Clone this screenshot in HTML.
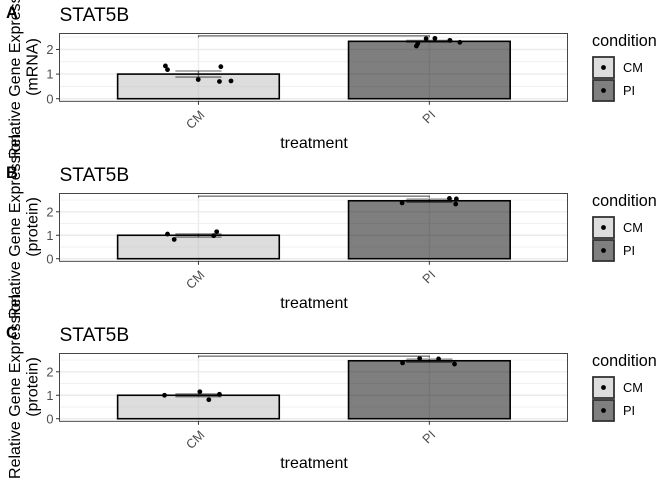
<!DOCTYPE html>
<html>
<head>
<meta charset="utf-8">
<style>
html,body{margin:0;padding:0;background:#fff;width:672px;height:480px;overflow:hidden}
svg{display:block;font-family:"Liberation Sans",sans-serif}
</style>
</head>
<body>
<svg id="chart" width="672" height="480" viewBox="0 0 672 480" xmlns="http://www.w3.org/2000/svg"></svg>
<script>
const categories = ['CM', 'PI'];
const yTickValues = [0, 1, 2];
const yMinorValues = [0.5, 1.5, 2.5];
const barFills = ['#bbbbbb', '#000000'];

const tagLabels = ['A', 'B', 'C'];
const yLines = ['(mRNA)', '(protein)', '(protein)'];
const yDomains = [[-0.105, 2.648], [-0.11, 2.78], [-0.11, 2.78]];
const barMeans = [[1, 2.33], [1, 2.47], [1, 2.47]];
const errLow = [[0.88, 2.30], [0.92, 2.41], [0.94, 2.41]];
const errHigh = [[1.126, 2.37], [1.06, 2.54], [1.06, 2.54]];
const bracketValues = [2.55, 2.67, 2.67];

const pointCatA = [0, 0, 0, 0, 0, 0, 1, 1, 1, 1, 1, 1];
const pointJitterA = [-0.143, -0.134, 0.097, -0.001, 0.091, 0.141, -0.056, -0.05, -0.014, 0.024, 0.089, 0.132];
const pointValueA = [1.33, 1.18, 1.30, 0.78, 0.70, 0.72, 2.14, 2.24, 2.44, 2.45, 2.37, 2.29];

const pointCatB = [0, 0, 0, 0, 1, 1, 1, 1];
const pointJitterB = [-0.134, -0.105, 0.066, 0.079, -0.118, 0.087, 0.117, 0.114];
const pointValueB = [1.05, 0.82, 0.98, 1.15, 2.38, 2.57, 2.55, 2.33];

const pointCatC = [0, 0, 0, 0, 1, 1, 1, 1];
const pointJitterC = [-0.147, 0.006, 0.045, 0.091, -0.116, -0.042, 0.04, 0.109];
const pointValueC = [1.0, 1.15, 0.81, 1.04, 2.38, 2.57, 2.55, 2.33];

const pointCats = [pointCatA, pointCatB, pointCatC];
const pointJitters = [pointJitterA, pointJitterB, pointJitterC];
const pointValues = [pointValueA, pointValueB, pointValueC];

const NS = 'http://www.w3.org/2000/svg';
const svg = document.getElementById('chart');
const panelLeft = 59.5, panelRight = 567.5, panelTopBase = 33.5, panelHeight = 67.8, rowStep = 160;
const barWidth = 0.7, capWidth = 0.2;

function xScale(v) {
  const lo = 0.4, hi = 2.6;
  return 0.4 + panelLeft + (v - lo) / (hi - lo) * (panelRight - panelLeft);
}
function yScaleFor(row) {
  const top = panelTopBase + row * rowStep;
  const d = yDomains[row];
  return function (v) {
    return top + panelHeight - (v - d[0]) / (d[1] - d[0]) * panelHeight;
  };
}
function add(parent, tag, attrs, text) {
  const el = document.createElementNS(NS, tag);
  for (const k in attrs) el.setAttribute(k, attrs[k]);
  if (text !== undefined) el.textContent = text;
  parent.appendChild(el);
  return el;
}

tagLabels.forEach(function (tag, row) {
  const oy = row * rowStep;
  const y = yScaleFor(row);
  const top = panelTopBase + oy, bottom = top + panelHeight;

  const g = add(svg, 'g', {});
  
  

  const bg = add(g, 'rect', { x: panelLeft, y: top, width: panelRight - panelLeft, height: panelHeight, fill: '#fff' });
  
  

  yMinorValues.forEach(function (v) {
    const l = add(g, 'line', { x1: panelLeft, x2: panelRight, y1: y(v), y2: y(v), stroke: '#ebebeb', 'stroke-width': 0.7 });
    
    
  });
  yTickValues.forEach(function (v) {
    const l = add(g, 'line', { x1: panelLeft, x2: panelRight, y1: y(v), y2: y(v), stroke: '#ebebeb', 'stroke-width': 1.4 });
    
    
  });
  categories.forEach(function (c, i) {
    const l = add(g, 'line', { x1: xScale(i + 1), x2: xScale(i + 1), y1: top, y2: bottom, stroke: '#ebebeb', 'stroke-width': 1.4 });
    
    
  });

  categories.forEach(function (c, i) {
    const x0 = xScale(i + 1 - barWidth / 2), x1 = xScale(i + 1 + barWidth / 2);
    const b = add(g, 'rect', { x: x0, y: y(barMeans[row][i]), width: x1 - x0, height: y(0) - y(barMeans[row][i]), fill: barFills[i], 'fill-opacity': 0.5, stroke: '#000', 'stroke-width': 1.6 });
    
    
  });

  pointValues[row].forEach(function (v, i) {
    const p = add(g, 'circle', { cx: xScale(pointCats[row][i] + 1 + pointJitters[row][i]), cy: y(v), r: 2.4, fill: '#000' });
    
    
  });

  categories.forEach(function (c, i) {
    const cx = xScale(i + 1), a = xScale(i + 1 - capWidth / 2), b = xScale(i + 1 + capWidth / 2);
    const eg = add(g, 'g', { stroke: '#000', 'stroke-opacity': 0.5, 'stroke-width': 1.3, fill: 'none' });
    
    
    add(eg, 'line', { x1: cx, x2: cx, y1: y(errLow[row][i]), y2: y(errHigh[row][i]) });
    add(eg, 'line', { x1: a, x2: b, y1: y(errLow[row][i]), y2: y(errLow[row][i]) });
    add(eg, 'line', { x1: a, x2: b, y1: y(errHigh[row][i]), y2: y(errHigh[row][i]) });
  });

  const by = y(bracketValues[row]);
  const br = add(g, 'path', { d: 'M' + xScale(1) + ' ' + (by + 1.5) + 'V' + by + 'H' + xScale(2) + 'V' + (by + 1.5), fill: 'none', stroke: '#444', 'stroke-width': 1 });
  
  

  const border = add(g, 'rect', { x: panelLeft, y: top, width: panelRight - panelLeft, height: panelHeight, fill: 'none', stroke: '#333', 'stroke-width': 0.9 });
  
  

  yTickValues.forEach(function (v) {
    const t = add(g, 'line', { x1: panelLeft - 3.5, x2: panelLeft, y1: y(v), y2: y(v), stroke: '#333', 'stroke-width': 1 });
    
    
    const lb = add(g, 'text', { x: panelLeft - 6, y: y(v) + 4.6, 'text-anchor': 'end', 'font-size': 12.8, fill: '#4d4d4d' }, String(v));
    
    
  });
  categories.forEach(function (c, i) {
    const cx = xScale(i + 1);
    const t = add(g, 'line', { x1: cx, x2: cx, y1: bottom, y2: bottom + 3.5, stroke: '#333', 'stroke-width': 1 });
    
    
    const lx = cx + 0.5, ly = bottom + 8;
    const lb = add(g, 'text', { x: lx, y: ly, 'text-anchor': 'end', 'font-size': 12.8, fill: '#4d4d4d', transform: 'rotate(-45 ' + lx + ' ' + ly + ') translate(0 9)' }, c);
    
    
  });

  const title = add(g, 'text', { x: 59.5, y: 21 + oy, 'font-size': 19.2, fill: '#000' }, 'STAT5B');
  
  

  const xt = add(g, 'text', { x: 314, y: 148 + oy, 'text-anchor': 'middle', 'font-size': 16, fill: '#000' }, 'treatment');
  
  

  const cy = 66.5 + oy;
  const yt1 = add(g, 'text', { x: 20, y: cy, 'text-anchor': 'middle', 'font-size': 16, fill: '#000', transform: 'rotate(-90 20 ' + cy + ')' }, 'Relative Gene Expression');
  
  
  const yt2 = add(g, 'text', { x: 37.5, y: cy + 0.5, 'text-anchor': 'middle', 'font-size': 16, fill: '#000', transform: 'rotate(-90 37.5 ' + (cy + 0.5) + ')' }, yLines[row]);
  
  

  const tg = add(g, 'text', { x: 6, y: 18 + oy, 'font-size': 16.5, 'font-weight': 'bold', fill: '#000' }, tag);
  
  

  const legend = add(g, 'g', {});
  
  
  const lt = add(legend, 'text', { x: 592, y: 46 + oy, 'font-size': 16.2, fill: '#000' }, 'condition');
  
  
  categories.forEach(function (c, i) {
    const ky = 57 + i * 23 + oy;
    const k = add(legend, 'rect', { x: 593, y: ky, width: 21, height: 21, fill: barFills[i], 'fill-opacity': 0.5, stroke: '#333', 'stroke-width': 1.8 });
    
    
    const d = add(legend, 'circle', { cx: 603.5, cy: ky + 10.5, r: 2.4, fill: '#000' });
    
    
    const l = add(legend, 'text', { x: 623, y: ky + 15, 'font-size': 12.8, fill: '#000' }, c);
    
    
  });
});
</script>
</body>
</html>
